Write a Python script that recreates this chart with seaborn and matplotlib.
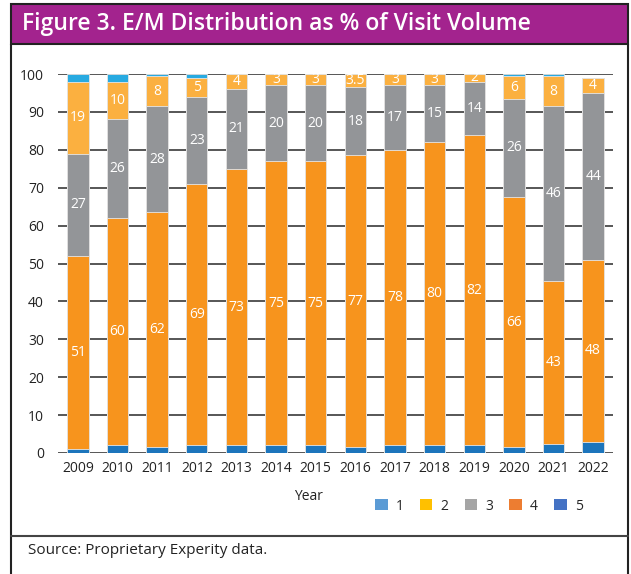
import numpy as np
import pandas as pd
import matplotlib
matplotlib.use("Agg")
import matplotlib.pyplot as plt
from matplotlib.patches import Rectangle, Patch
from matplotlib.lines import Line2D
import seaborn as sns

# E/M level shares (% of visit volume)
years = [str(y) for y in range(2009, 2023)]
level_5 = [1, 2, 1.5, 2, 2, 2, 2, 1.5, 2, 2, 2, 1.5, 2.5, 3]
level_4 = [51, 60, 62, 69, 73, 75, 75, 77, 78, 80, 82, 66, 43, 48]
level_3 = [27, 26, 28, 23, 21, 20, 20, 18, 17, 15, 14, 26, 46, 44]
level_2 = [19, 10, 8, 5, 4, 3, 3, 3.5, 3, 3, 2, 6, 8, 4]
level_1 = [2, 2, 0.5, 1, 0, 0, 0, 0, 0, 0, 0, 0.5, 0.5, 0]

label_4 = ["51", "60", "62", "69", "73", "75", "75", "77", "78", "80", "82", "66", "43", "48"]
label_3 = ["27", "26", "28", "23", "21", "20", "20", "18", "17", "15", "14", "26", "46", "44"]
label_2 = ["19", "10", "8", "5", "4", "3", "3", "3.5", "3", "3", "2", "6", "8", "4"]

bar_colors = {"5": "#1C75BC", "4": "#F7941D", "3": "#939598", "2": "#FBB040", "1": "#27AAE1"}
legend_colors = {"1": "#5B9BD5", "2": "#FFC000", "3": "#A5A5A5", "4": "#ED7D31", "5": "#4472C4"}

sns.set_style("white")
plt.rcParams["font.family"] = ["Open Sans", "DejaVu Sans"]

df = pd.DataFrame({"Year": years, "5": level_5, "4": level_4, "3": level_3,
                   "2": level_2, "1": level_1})

W, H = 631, 574
fig = plt.figure(figsize=(W / 100, H / 100), dpi=100)
ax = fig.add_axes([58 / W, 1 - 453 / H, 555 / W, 379 / H])

# stacked bars via cumulative overplotting (tallest first)
order = ["5", "4", "3", "2", "1"]
cum = df[order].cumsum(axis=1)
for lvl in reversed(order):
    sns.barplot(x=df["Year"], y=cum[lvl], color=bar_colors[lvl], width=0.54,
                edgecolor="#e6e6e6", linewidth=0.6, saturation=1, ax=ax, zorder=2)

# segment labels
for i in range(len(years)):
    for lvl, labs in (("4", label_4), ("3", label_3), ("2", label_2)):
        top = cum[lvl].iloc[i]
        val = df[lvl].iloc[i]
        ax.text(i, top - val / 2, labs[i], ha="center", va="center",
                color="white", fontsize=10, zorder=3)

ax.set_ylim(0, 100)
ax.set_xlim(-0.5, len(years) - 0.5)
ax.set_yticks(range(0, 101, 10))
ax.yaxis.grid(True, color="#3a3a3a", linewidth=1.2)
ax.set_axisbelow(True)
for s in ax.spines.values():
    s.set_visible(False)
ax.tick_params(axis="both", length=0, labelsize=10, colors="#222222")
ax.tick_params(axis="y", pad=10)
ax.tick_params(axis="x", pad=6)
ax.set_xlabel("")
ax.set_ylabel("")

# axis title and legend
fig.text(308 / W, 1 - 497 / H, "Year", ha="center", va="center", fontsize=10, color="#222222")
handles = [Patch(facecolor=legend_colors[k], edgecolor="none") for k in ["1", "2", "3", "4", "5"]]
fig.legend(handles, ["1", "2", "3", "4", "5"], loc="center", bbox_to_anchor=(479 / W, 1 - 506 / H),
           ncol=5, frameon=False, fontsize=10, handlelength=0.9, handleheight=0.9,
           columnspacing=1.15, handletextpad=0.6, borderpad=0)

# frame, title bar and source note
fig.patches.append(Rectangle((11 / W, 1 - 44 / H), 617 / W, 40 / H, transform=fig.transFigure,
                             facecolor="#A3238E", edgecolor="#222222", linewidth=1.5))
fig.add_artist(Line2D([11 / W, 11 / W], [0, 1 - 44 / H], transform=fig.transFigure,
                      color="#222222", linewidth=1.5))
fig.add_artist(Line2D([628 / W, 628 / W], [0, 1 - 44 / H], transform=fig.transFigure,
                      color="#222222", linewidth=1.5))
fig.add_artist(Line2D([11 / W, 628 / W], [1 - 536 / H, 1 - 536 / H], transform=fig.transFigure,
                      color="#444444", linewidth=1.5))
fig.text(22 / W, 1 - 24 / H, "Figure 3. E/M Distribution as % of Visit Volume", ha="left",
         va="center", fontsize=16.5, fontweight="semibold", color="white")
fig.text(28 / W, 1 - 550 / H, "Source: Proprietary Experity data.", ha="left", va="center",
         fontsize=11, color="#222222")

fig.savefig("out.png", dpi=100)
